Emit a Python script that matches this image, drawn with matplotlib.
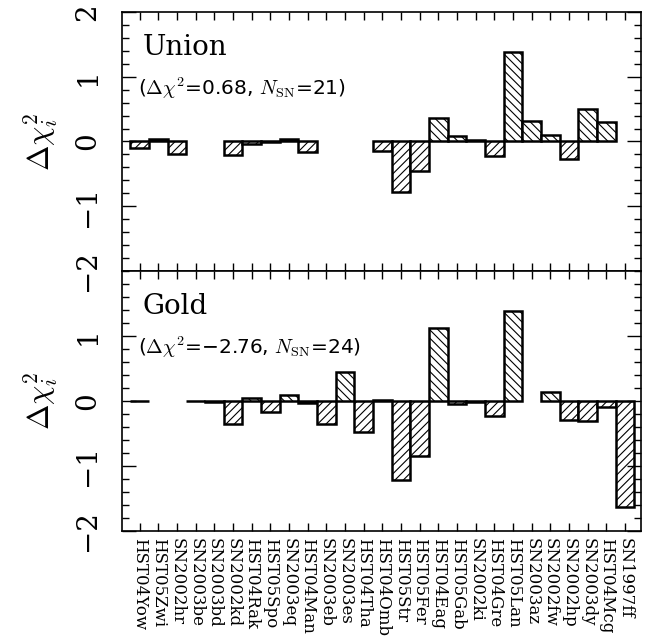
import numpy as np
import matplotlib
matplotlib.use("Agg")
import matplotlib.pyplot as plt
from matplotlib.ticker import MultipleLocator

plt.rcParams['mathtext.fontset'] = 'cm'
plt.rcParams['hatch.linewidth'] = 0.8

# supernova names along the x axis
names = ['HST04Yow', 'HST05Zwi', 'SN2002hr', 'SN2003be', 'SN2003bd', 'SN2002kd',
         'HST04Rak', 'HST05Spo', 'SN2003eq', 'HST04Man', 'SN2003eb', 'SN2003es',
         'HST04Tha', 'HST04Omb', 'HST05Str', 'HST05Fer', 'HST04Eag', 'HST05Gab',
         'SN2002ki', 'HST04Gre', 'HST05Lan', 'SN2003az', 'SN2002fw', 'SN2002hp',
         'SN2003dy', 'HST04Mcg', 'SN1997ff']

nan = np.nan
# per-object chi^2 difference, nan where the object is not in the sample
union_dchi2 = [-0.10, 0.04, -0.19, nan, nan, -0.21,
               -0.035, -0.01, 0.04, -0.16, nan, nan,
               nan, -0.14, -0.78, -0.45, 0.36, 0.08,
               0.02, -0.23, 1.38, 0.32, 0.10, -0.27,
               0.50, 0.30, nan]
gold_dchi2 = [0.0, nan, nan, 0.005, -0.01, -0.35,
              0.04, -0.17, 0.09, -0.035, -0.35, 0.45,
              -0.47, 0.02, -1.22, -0.85, 1.13, -0.05,
              -0.01, -0.23, 1.39, nan, 0.14, -0.30,
              -0.31, -0.09, -1.63]

panels = [('Union', '($\\Delta\\chi^2$=0.68, $N_{\\rm SN}$=21)', union_dchi2),
          ('Gold', '($\\Delta\\chi^2$=\u22122.76, $N_{\\rm SN}$=24)', gold_dchi2)]


def draw_bars(ax, values):
    x = np.arange(len(names))
    for xi, v in zip(x, values):
        if np.isnan(v):
            continue
        hatch = '////' if v < 0 else '\\\\\\\\'
        ax.bar(xi, v, width=1.0, facecolor='white', edgecolor='black',
               linewidth=1.8, hatch=hatch)


def style_axes(ax, show_top_label):
    ax.set_xlim(-0.95, 26.85)
    ax.set_ylim(-2, 2)
    ax.set_xticks(np.arange(len(names)))
    ax.set_yticks([-2, -1, 0, 1, 2] if show_top_label else [-2, -1, 0, 1])
    ax.yaxis.set_minor_locator(MultipleLocator(0.2))
    ax.tick_params(axis='both', which='both', direction='in',
                   top=True, right=True, width=1.0)
    ax.tick_params(axis='y', which='major', length=10, labelsize=20, pad=15,
                   labelrotation=90, labelfontfamily='DejaVu Serif')
    ax.tick_params(axis='y', which='minor', length=5)
    ax.tick_params(axis='x', length=6)
    for lab in ax.get_yticklabels():
        lab.set_va('center')
    for s in ax.spines.values():
        s.set_linewidth(1.2)
    ax.set_ylabel(r'$\Delta\chi_i^2$', fontsize=22)
    ax.yaxis.set_label_coords(-0.12, 0.5)


fig = plt.figure(figsize=(6.54, 6.37), dpi=100)
ax_top = fig.add_axes([0.1865, 0.5746, 0.7936, 0.4066])
ax_bot = fig.add_axes([0.1865, 0.1664, 0.7936, 0.4082])

for ax, (title, summary, values) in zip([ax_top, ax_bot], panels):
    draw_bars(ax, values)
    style_axes(ax, ax is ax_top)
    ax.text(0.04, 0.834, title, transform=ax.transAxes, fontsize=20,
            family='DejaVu Serif')
    ax.text(0.03, 0.68, summary, transform=ax.transAxes, fontsize=14.5,
            family='DejaVu Sans')

ax_top.tick_params(axis='x', labelbottom=False)
ax_bot.set_xticklabels(names, rotation=270, family='DejaVu Serif', fontsize=12)
ax_bot.tick_params(axis='x', pad=5)

fig.savefig('out.png', dpi=100)
